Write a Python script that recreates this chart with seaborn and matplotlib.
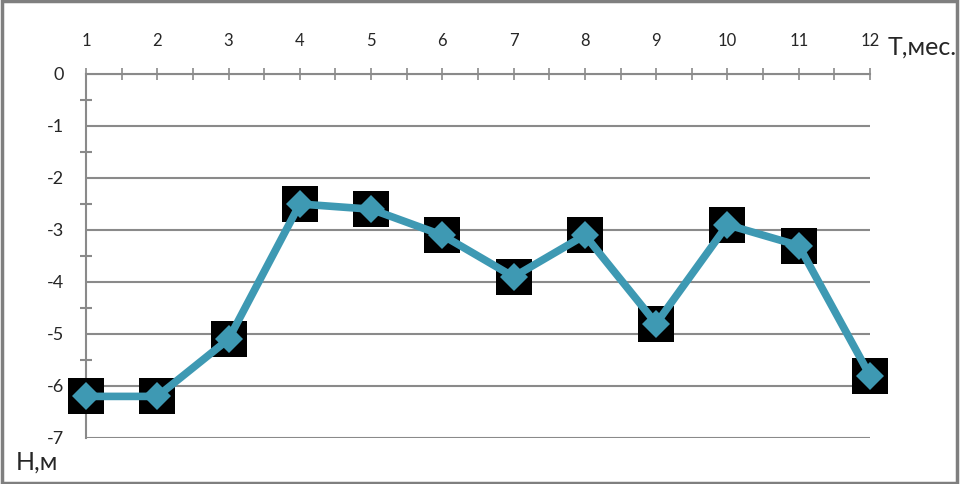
import pandas as pd
import matplotlib.pyplot as plt
import seaborn as sns
from matplotlib.ticker import MultipleLocator
from matplotlib.patches import Rectangle

# months and groundwater level
months = [1, 2, 3, 4, 5, 6, 7, 8, 9, 10, 11, 12]
level = [-6.2, -6.2, -5.1, -2.5, -2.6, -3.1, -3.9, -3.1, -4.8, -2.9, -3.3, -5.8]
y_ticks = [0, -1, -2, -3, -4, -5, -6, -7]

df = pd.DataFrame({'T': months, 'H': level})

sns.set_style('white')
plt.rcParams['font.family'] = ['Lato', 'DejaVu Sans']
plt.rcParams['axes.unicode_minus'] = False

fig = plt.figure(figsize=(9.62, 4.84), dpi=100)
ax = fig.add_axes([86 / 962, 1 - 438 / 484, (870 - 86) / 962, (438 - 74) / 484])

grid_c = '#8a8a8a'
for y in y_ticks:
    ax.axhline(y, color=grid_c, lw=1.5, zorder=1)

# black squares behind, teal line with diamond markers on top
sq = sns.scatterplot(data=df, x='T', y='H', marker='s', s=700, color='black',
                     edgecolor='black', linewidth=0, ax=ax, zorder=3)
ax.collections[-1].set_clip_on(False)
sns.lineplot(data=df, x='T', y='H', color='#3e99b3', lw=5.5, marker='D',
             markersize=14, markeredgewidth=0, ax=ax, zorder=4, clip_on=False)

ax.set_xlim(1, 12)
ax.set_ylim(-7, 0)
ax.xaxis.tick_top()
ax.set_xticks(months)
ax.set_xticklabels([str(m) for m in months], fontsize=12)
ax.xaxis.set_minor_locator(MultipleLocator(0.5))
ax.set_yticks(y_ticks)
ax.set_yticklabels([str(v) for v in y_ticks], fontsize=13)
ax.yaxis.set_minor_locator(MultipleLocator(0.5))
ax.set_xlabel('')
ax.set_ylabel('')

for side in ['right', 'bottom']:
    ax.spines[side].set_visible(False)
for side in ['left', 'top']:
    ax.spines[side].set_color(grid_c)
    ax.spines[side].set_linewidth(1.5)

ax.tick_params(axis='x', which='major', direction='inout', length=8, width=1.2,
               color=grid_c, pad=14)
ax.tick_params(axis='x', which='minor', direction='inout', length=8, width=1.2,
               color=grid_c, top=True)
ax.tick_params(axis='y', which='major', direction='out', length=6, width=1.5,
               color=grid_c, pad=10)
ax.tick_params(axis='y', which='minor', direction='inout', length=8, width=1.5,
               color=grid_c, left=True)

fig.text(888 / 962, 1 - 47 / 484, 'T,мес.', fontsize=18, va='center', ha='left')
fig.text(16 / 962, 1 - 462 / 484, 'H,м', fontsize=18, va='center', ha='left')

# outer frame of the picture
fig.patches.append(Rectangle((0.002, 0.003), 0.993, 0.994, transform=fig.transFigure,
                             fill=False, edgecolor='#7f7f7f', lw=2.5))

fig.savefig('out.png', dpi=100)
